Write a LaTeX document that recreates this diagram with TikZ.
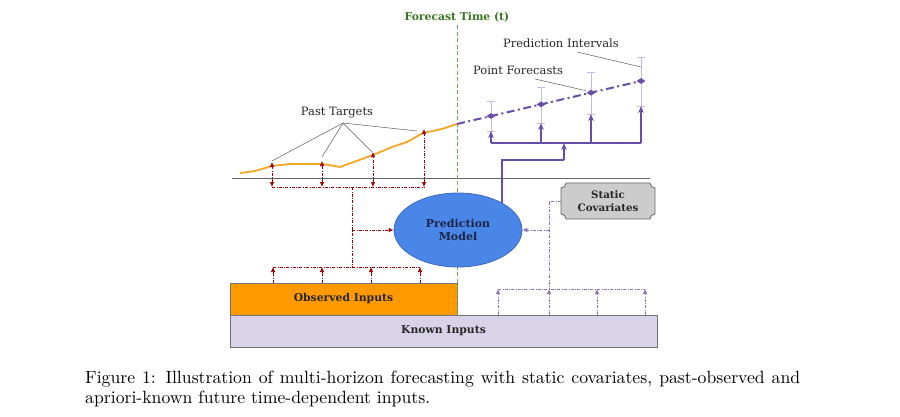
\documentclass[tikz,border=0pt]{standalone}
\usepackage{fontspec}
\newfontfamily\djs{DejaVu Serif}
\newfontfamily\capfont{lmroman10-regular.otf}
\usetikzlibrary{arrows.meta,shapes.geometric}
\definecolor{fgreen}{HTML}{38761D}
\definecolor{lgreen}{HTML}{6AA84F}
\definecolor{orng}{HTML}{F5A623}
\definecolor{dred}{HTML}{990000}
\definecolor{purp}{HTML}{674EA7}
\definecolor{lpurp}{HTML}{C4BBE0}
\definecolor{eblue}{HTML}{4A86E8}
\definecolor{eborder}{HTML}{3A69B8}
\definecolor{navy}{HTML}{1C2546}
\definecolor{obsfill}{HTML}{FF9900}
\definecolor{knfill}{HTML}{D9D2E9}
\definecolor{scfill}{HTML}{CCCCCC}
\tikzset{
  lbl/.style={font=\djs\fontsize{11.5}{13}\selectfont, text=black!85, inner sep=1pt},
  blbl/.style={font=\djs\bfseries\fontsize{10.8}{13}\selectfont, text=black!85, align=center},
  redline/.style={dred, line width=0.7pt, dash pattern=on 3pt off 1.5pt on 0.6pt off 1.5pt},
  redarr/.style={redline, -{Latex[length=5pt,width=4.5pt]}},
  redboth/.style={redline, {Latex[length=5pt,width=4.5pt]}-{Latex[length=5pt,width=4.5pt]}},
  pline/.style={purp, line width=1.1pt},
  parr/.style={pline, -{Stealth[length=7pt,width=5.5pt]}},
  pdot/.style={purp!80, line width=0.7pt, dash pattern=on 3pt off 1.5pt on 0.6pt off 1.5pt},
  pdotarr/.style={pdot, -{Latex[length=5pt,width=4.5pt]}},
  intv/.style={lpurp, line width=0.8pt},
  dmd/.style={diamond, fill=purp, draw=none, minimum width=9pt, minimum height=6pt, inner sep=0pt},
  leader/.style={black!65, line width=0.5pt},
  captxt/.style={anchor=base west, inner sep=0pt, font=\capfont\fontsize{17.7}{20}\selectfont},
}
\begin{document}
\begin{tikzpicture}[x=1pt,y=1pt]
\useasboundingbox (0,0) rectangle (900,416);
% boxes
\node[draw=black!55, fill=knfill, line width=0.8pt, minimum width=427pt, minimum height=32pt, inner sep=0pt, blbl] (known) at (443.5,85) {Known Inputs};
\node[draw=black!55, fill=obsfill, line width=0.8pt, minimum width=227pt, minimum height=32pt, inner sep=0pt, blbl] (obs) at (343.5,117) {Observed Inputs};
% forecast time
\node[font=\djs\bfseries\fontsize{10.8}{12}\selectfont, text=fgreen] (ft) at (457,399) {Forecast Time (t)};
\coordinate (ftb) at (457,101);
\draw[lgreen, line width=0.8pt, dash pattern=on 4pt off 2.5pt] (ft.south) -- (ftb);
% axis line
\coordinate (ax1) at (232,238);
\coordinate (ax2) at (650,238);
\draw[black!60, line width=0.6pt] (ax1) -- (ax2);
% ellipse
\node[ellipse, draw=eborder, fill=eblue, line width=0.8pt, minimum width=128pt, minimum height=74pt, inner sep=0pt, font=\djs\bfseries\fontsize{11}{13.5}\selectfont, text=navy, align=center] (pm) at (458,186) {Prediction\\Model};
% static covariates
\node[blbl, minimum width=94pt, minimum height=36pt, inner sep=0pt] (sc) at (608,215) {};
\fill[scfill, draw=black!60, line width=0.8pt]
  (566,233) -- (650,233) arc[start angle=180, end angle=270, radius=5pt]
  -- (655,202) arc[start angle=90, end angle=180, radius=5pt]
  -- (566,197) arc[start angle=0, end angle=90, radius=5pt]
  -- (561,228) arc[start angle=270, end angle=360, radius=5pt] -- cycle;
\node[blbl, inner sep=0pt, font=\djs\bfseries\fontsize{10.3}{12.5}\selectfont] (sct) at (608,215) {Static\\Covariates};
% orange past target line
\draw[orng, line width=1.8pt, line join=round] (240,243) -- (255,245) -- (272,250) -- (290,252) -- (306,252) -- (323,252) -- (340,249) -- (373,261) -- (392,269) -- (407,274) -- (423,283) -- (442,287) -- (457,292);
% forecasts intervals
\foreach \n/\x/\t/\b in {1/491/315/285, 2/541/329/293, 3/591/344/302, 4/641/359/310}{
  \coordinate (it\n) at (\x,\t);
  \coordinate (ib\n) at (\x,\b);
  \draw[intv] (it\n) -- (ib\n);
  \draw[intv] ([xshift=-4pt]it\n) -- ([xshift=4pt]it\n);
  \draw[intv] ([xshift=-4pt]ib\n) -- ([xshift=4pt]ib\n);
}
\coordinate (fs) at (457,292);
\coordinate (fe) at (641,335);
\draw[purp, line width=2pt, dash pattern=on 8pt off 3.5pt on 2pt off 3.5pt] (fs) -- (fe);
\node[dmd] (d1) at (491,300) {};
\node[dmd] (d2) at (541,311.6) {};
\node[dmd] (d3) at (591,323.3) {};
\node[dmd] (d4) at (641,335) {};
% purple output connectors
\coordinate (p0) at (502,213);
\coordinate (p1) at (502,256);
\coordinate (p2) at (564,256);
\coordinate (p3) at (564,273);
\coordinate (h1) at (491,273);
\coordinate (h4) at (641,273);
\draw[pline] (p0) -- (p1) -- (p2);
\draw[parr] (p2) -- (p3);
\draw[pline] (h1) -- (h4);
\foreach \n/\x in {1/491,2/541,3/591,4/641}{
  \coordinate (hb\n) at (\x,273);
  \draw[parr] (hb\n) -- (ib\n);
}
% labels
\node[lbl] (pi) at (561,373) {Prediction Intervals};
\node[lbl] (pf) at (518,346) {Point Forecasts};
\coordinate (pil) at (577,364);
\coordinate (pfl) at (535,337);
\draw[leader] (pil) -- ([yshift=-10pt]it4);
\draw[leader] (pfl) -- ([xshift=-5pt,yshift=2pt]d3.center);
\node[lbl] (pt) at (337,303) {Past Targets};
\coordinate (ptl) at (343,293);
\foreach \x/\y in {272/255, 322/259, 372/264, 417/285}{
  \draw[leader] (ptl) -- (\x,\y);
}
% red upper connectors
\foreach \n/\x/\y in {1/272/254, 2/322/255, 3/373/264, 4/424/287}{
  \coordinate (rt\n) at (\x,\y);
  \coordinate (rb\n) at (\x,229);
  \draw[redboth] (rb\n) -- (rt\n);
}
\draw[redline] (rb1) -- (rb4);
\coordinate (rj1) at (352,229);
\coordinate (rj2) at (352,149);
\coordinate (rm) at (352,186);
\draw[redline] (rj1) -- (rj2);
\draw[redarr, line width=0.9pt] (rm) -- (pm.west);
% red lower connectors
\coordinate (rl1) at (273,149);
\coordinate (rl4) at (420,149);
\draw[redline] (rl1) -- (rl4);
\foreach \x in {273,322,371,420}{
  \draw[redarr] (\x,133) -- (\x,149);
}
% purple static / known connectors
\coordinate (s1) at (549,215);
\coordinate (s2) at (549,127);
\coordinate (sm) at (549,186);
\draw[pdot] (sc.west) -- (s1) -- (s2);
\draw[pdotarr] (sm) -- (pm.east);
\coordinate (kl1) at (498,127);
\coordinate (kl4) at (645,127);
\draw[pdot] (kl1) -- (kl4);
\foreach \x in {498,549,597,645}{
  \draw[pdotarr] (\x,101) -- (\x,127);
}
% caption
\node[captxt] (cap1) at (85,33) {\makebox[715pt][s]{Figure 1: Illustration of multi-horizon forecasting with static covariates, past-observed and}};
\node[captxt] (cap2) at (85,13) {apriori-known future time-dependent inputs.};
\end{tikzpicture}
\end{document}
